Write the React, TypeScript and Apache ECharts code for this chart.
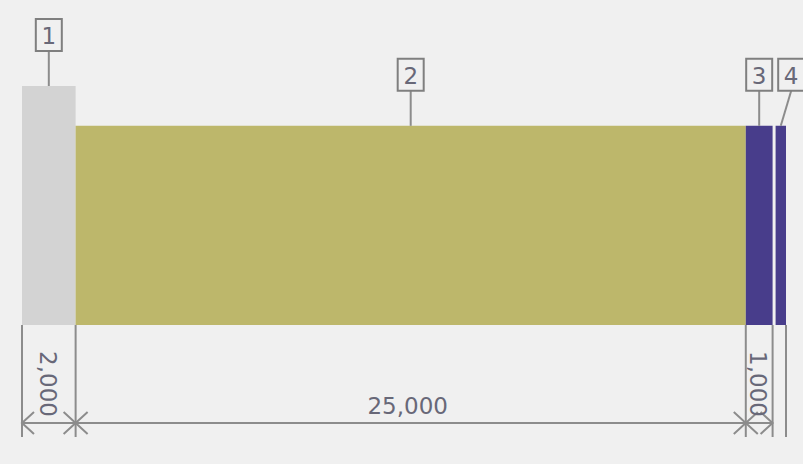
import React, { useEffect, useRef } from "react";
import * as echarts from "echarts";

const layerNames = ["1", "2", "3", "4"];
const layerWidths = [2000, 25000, 1000, 500];
const layerHeights = [6, 5, 5, 5];
const layerColors = ["#d3d3d3", "#bdb76b", "#483d8b", "#483d8b"];
const dimensionLayers = [0, 1, 2];

const starts = layerWidths.map((_, i) => layerWidths.slice(0, i).reduce((a, b) => a + b, 0));
const total = layerWidths.reduce((a, b) => a + b, 0);
const boundaries = [0, ...layerWidths.map((w, i) => starts[i] + w)];

const LINE = "#8c8c8c";
const TEXT = "#686878";
const FONT = '"DejaVu Sans", Verdana, sans-serif';

export default function App() {
  const ref = useRef<HTMLDivElement>(null);
  useEffect(() => {
    const chart = echarts.init(ref.current!, null, { renderer: "svg" });

    const layerItem = (params: any, api: any) => {
      const i = api.value(3);
      const p0 = api.coord([api.value(0), 0]);
      const p1 = api.coord([api.value(1), api.value(2)]);
      const inset = i > 0 && layerColors[i] === layerColors[i - 1] ? 3 : 0;
      const x0 = p0[0] + inset;
      const top = p1[1];
      const cx = (x0 + p1[0]) / 2;
      let bcx = cx;
      if (i > 0) {
        const prev = api.coord([starts[i - 1] + layerWidths[i - 1] / 2, 0])[0];
        if (bcx - prev < 32) bcx = prev + 32;
      }
      const boxBottom = top - 35;
      return {
        type: "group",
        children: [
          {
            type: "rect",
            shape: { x: x0, y: top, width: p1[0] - x0, height: p0[1] - top },
            style: { fill: layerColors[i] },
          },
          {
            type: "line",
            shape: { x1: bcx, y1: boxBottom, x2: cx, y2: top },
            style: { stroke: LINE, lineWidth: 2 },
          },
          {
            type: "rect",
            shape: { x: bcx - 13, y: boxBottom - 32, width: 26, height: 32 },
            style: { fill: "#f0f0f0", stroke: "#7f7f7f", lineWidth: 2 },
          },
          {
            type: "text",
            style: {
              text: layerNames[i],
              x: bcx,
              y: boxBottom - 15,
              align: "center",
              verticalAlign: "middle",
              fill: TEXT,
              fontSize: 23,
              fontFamily: FONT,
            },
          },
        ],
      };
    };

    const extItem = (params: any, api: any) => {
      const p = api.coord([api.value(0), 0]);
      return {
        type: "line",
        shape: { x1: p[0], y1: p[1], x2: p[0], y2: p[1] + 112 },
        style: { stroke: LINE, lineWidth: 2 },
      };
    };

    const dimItem = (params: any, api: any) => {
      const i = api.value(2);
      const a = api.coord([api.value(0), 0]);
      const b = api.coord([api.value(1), 0]);
      const y = a[1] + 98;
      const label = layerWidths[i].toLocaleString("en-US");
      const cx = (a[0] + b[0]) / 2;
      const wide = b[0] - a[0] > 100;
      const text = wide
        ? {
            type: "text",
            style: {
              text: label,
              x: cx - 3,
              y: a[1] + 81,
              align: "center",
              verticalAlign: "middle",
              fill: TEXT,
              fontSize: 23,
              fontFamily: FONT,
            },
          }
        : {
            type: "text",
            x: cx - 1,
            y: a[1] + 59,
            rotation: -Math.PI / 2,
            style: {
              text: label,
              x: 0,
              y: 0,
              align: "center",
              verticalAlign: "middle",
              fill: TEXT,
              fontSize: 23,
              fontFamily: FONT,
            },
          };
      return {
        type: "group",
        children: [
          {
            type: "line",
            shape: { x1: a[0], y1: y, x2: b[0], y2: y },
            style: { stroke: LINE, lineWidth: 2 },
          },
          {
            type: "polyline",
            shape: { points: [[a[0] + 12, y - 11], [a[0], y], [a[0] + 12, y + 11]] },
            style: { stroke: LINE, lineWidth: 2, fill: "none" },
          },
          {
            type: "polyline",
            shape: { points: [[b[0] - 12, y - 11], [b[0], y], [b[0] - 12, y + 11]] },
            style: { stroke: LINE, lineWidth: 2, fill: "none" },
          },
          text,
        ],
      };
    };

    chart.setOption({
      animation: false,
      backgroundColor: "#f0f0f0",
      grid: { left: 22, right: 17, top: 86, bottom: 139 },
      xAxis: { type: "value", min: 0, max: total, show: false },
      yAxis: { type: "value", min: 0, max: 6, show: false },
      series: [
        {
          type: "custom",
          renderItem: layerItem,
          data: layerWidths.map((w, i) => [starts[i], starts[i] + w, layerHeights[i], i]),
          encode: { x: [0, 1], y: 2 },
          silent: true,
        },
        {
          type: "custom",
          renderItem: extItem,
          data: boundaries.map((b) => [b]),
          encode: { x: 0 },
          silent: true,
        },
        {
          type: "custom",
          renderItem: dimItem,
          data: dimensionLayers.map((i) => [starts[i], starts[i] + layerWidths[i], i]),
          encode: { x: [0, 1] },
          silent: true,
        },
      ],
    });
    return () => chart.dispose();
  }, []);
  return (
    <div
      ref={ref}
      style={{ position: "absolute", left: 0, top: 0, width: 803, height: 464 }}
    />
  );
}
